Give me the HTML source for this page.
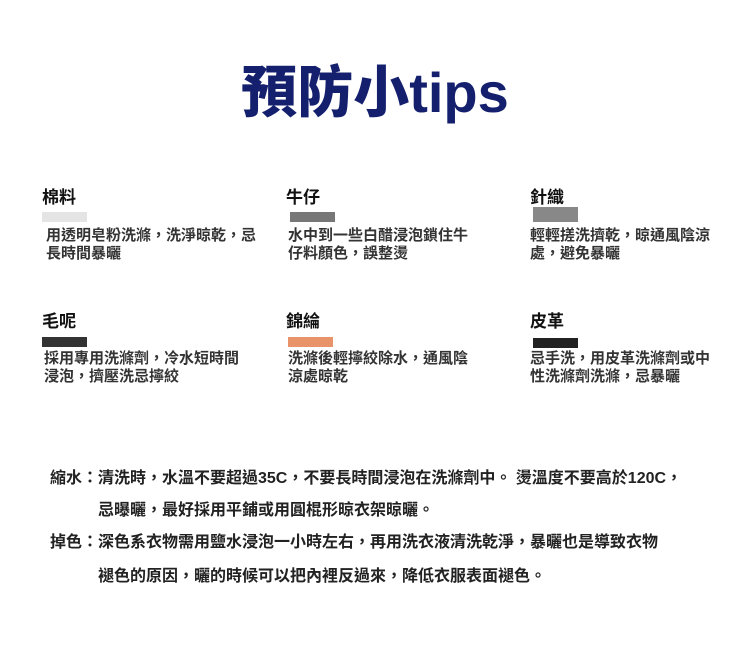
<!DOCTYPE html>
<html><head><meta charset="utf-8"><style>
body{margin:0;width:750px;height:650px;background:#fff;position:relative;overflow:hidden;font-family:"Liberation Sans","Noto Sans CJK TC",sans-serif;}
.a{position:absolute;white-space:nowrap}
.t{left:0;width:750px;text-align:center;top:58px;font-size:56px;font-weight:900;color:#14206e;line-height:70px}
.h{font-size:17px;font-weight:bold;color:#111;line-height:20px}
.s{width:45px;height:10px}
.b{font-size:15px;font-weight:bold;color:#333;line-height:18px}
.n{font-size:16px;font-weight:bold;color:#222;line-height:20px}
</style></head><body>
<div class="a t">預防小tips</div>

<div class="a h" style="left:42px;top:188px">棉料</div>
<div class="a s" style="left:42px;top:212px;background:#e4e4e4"></div>
<div class="a b" style="left:46px;top:227px">用透明皂粉洗滌，洗淨晾乾，忌<br>長時間暴曬</div>

<div class="a h" style="left:286px;top:188px">牛仔</div>
<div class="a s" style="left:290px;top:212px;background:#777"></div>
<div class="a b" style="left:288px;top:227px">水中到一些白醋浸泡鎖住牛<br>仔料顏色，誤整燙</div>

<div class="a h" style="left:530px;top:188px">針織</div>
<div class="a s" style="left:533px;top:207px;height:15px;background:#888"></div>
<div class="a b" style="left:530px;top:227px">輕輕搓洗擠乾，晾通風陰涼<br>處，避免暴曬</div>

<div class="a h" style="left:42px;top:312px">毛呢</div>
<div class="a s" style="left:42px;top:337px;background:#333"></div>
<div class="a b" style="left:44px;top:350px">採用專用洗滌劑，冷水短時間<br>浸泡，擠壓洗忌擰絞</div>

<div class="a h" style="left:286px;top:312px">錦綸</div>
<div class="a s" style="left:288px;top:337px;background:#e8936a"></div>
<div class="a b" style="left:288px;top:350px">洗滌後輕擰絞除水，通風陰<br>涼處晾乾</div>

<div class="a h" style="left:530px;top:312px">皮革</div>
<div class="a s" style="left:533px;top:338px;background:#222"></div>
<div class="a b" style="left:530px;top:350px">忌手洗，用皮革洗滌劑或中<br>性洗滌劑洗滌，忌暴曬</div>

<div class="a n" style="left:50px;top:469px">縮水：清洗時，水溫不要超過35C，不要長時間浸泡在洗滌劑中。 燙溫度不要高於120C，</div>
<div class="a n" style="left:98px;top:501px">忌曝曬，最好採用平鋪或用圓棍形晾衣架晾曬。</div>
<div class="a n" style="left:50px;top:533px">掉色：深色系衣物需用鹽水浸泡一小時左右，再用洗衣液清洗乾淨，暴曬也是導致衣物</div>
<div class="a n" style="left:98px;top:567px">褪色的原因，曬的時候可以把內裡反過來，降低衣服表面褪色。</div>
</body></html>
